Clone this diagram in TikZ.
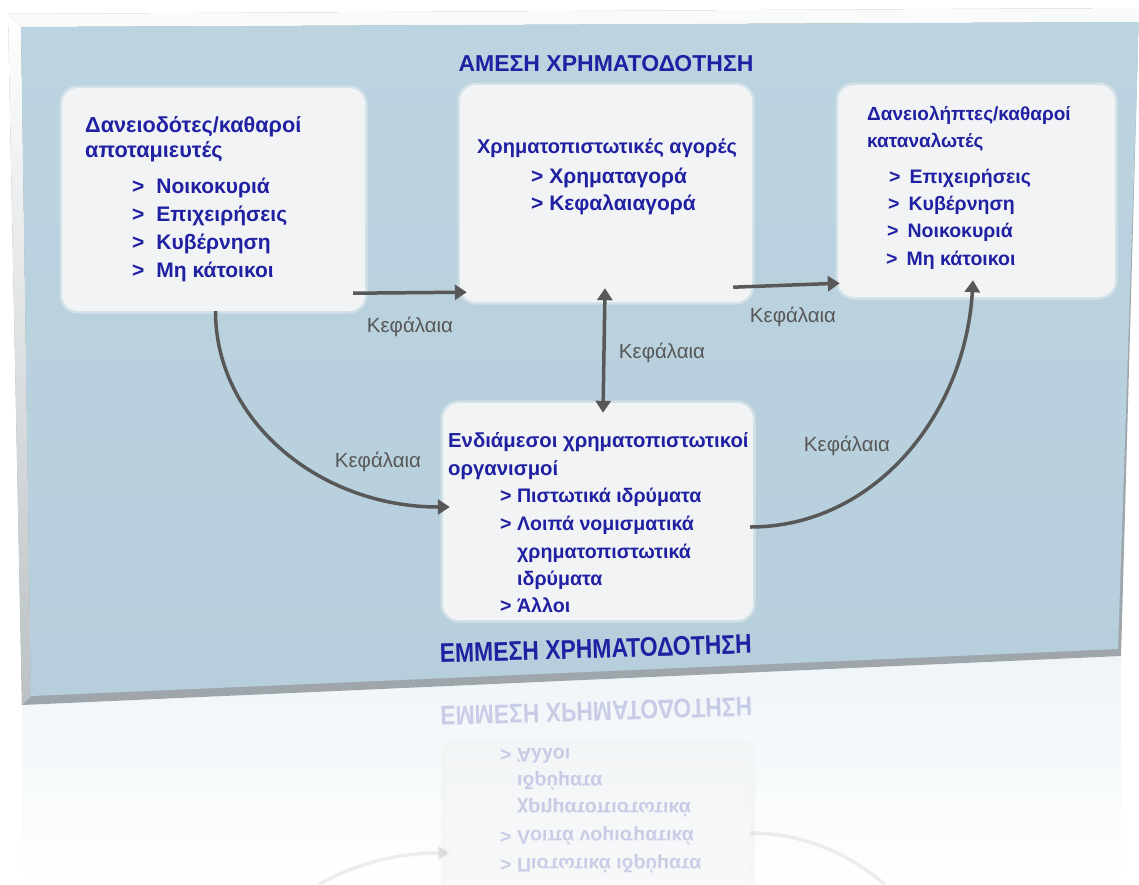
\documentclass[tikz,border=0pt]{standalone}
\usepackage{fontspec}
\setmainfont{Liberation Sans}
\usetikzlibrary{arrows.meta}
\definecolor{panel}{HTML}{BCD4E0}
\definecolor{panelb}{HTML}{B7CFDC}
\definecolor{boxc}{HTML}{F1F3F4}
\definecolor{txtblue}{HTML}{2020A2}
\definecolor{arrgray}{HTML}{585858}
\definecolor{bevel}{HTML}{9EA6AB}
\begin{document}
\begin{tikzpicture}[x=1pt,y=1pt,
  box/.style={draw=none, fill=boxc, rounded corners=16pt, inner sep=0pt,
     preaction={draw=boxc, line width=5pt, opacity=0.45, rounded corners=16pt}},
  hd/.style={anchor=base west, text=txtblue, font=\bfseries\fontsize{20}{24}\selectfont, inner sep=0pt},
  it/.style={anchor=base west, text=txtblue, font=\bfseries\fontsize{21}{25}\selectfont, inner sep=0pt},
  ttl/.style={anchor=base, text=txtblue, font=\bfseries\fontsize{23}{27}\selectfont, inner sep=0pt},
  lbl/.style={text=arrgray, font=\fontsize{20.5}{24}\selectfont, inner sep=0pt},
  arr/.style={draw=arrgray, line width=3.5pt, -{Triangle[length=12pt,width=15pt]}},
  darr/.style={draw=arrgray, line width=3.5pt, {Triangle[length=12pt,width=15pt]}-{Triangle[length=12pt,width=15pt]}},
]
\useasboundingbox (0,0) rectangle (1139,-884);
\fill[white] (0,0) rectangle (1139,-884);
% reflection background
\shade[top color=panel!25!white, bottom color=white] (22,-705) -- (1121,-656) -- (1121,-884) -- (22,-884) -- cycle;
% panel bevel
\fill[bevel] (8,-14) -- (1139,-8) -- (1121,-656) -- (22,-705) -- cycle;
\shade[top color=white, bottom color=bevel!70!white] (8,-14) -- (21,-27) -- (31,-696) -- (22,-705) -- cycle;
\fill[white!94!bevel] (8,-14) -- (1139,-8) -- (1139,-22) -- (21,-27) -- cycle;
% panel face
\shade[top color=panel, bottom color=panelb] (21,-27) -- (1139,-22) -- (1118,-649) -- (31,-696) -- cycle;

% boxes
\node[box, minimum width=303pt, minimum height=223pt] (L) at (213.5,-199.5) {};
\node[box, minimum width=292pt, minimum height=217pt] (M) at (606,-193.5) {};
\node[box, minimum width=277pt, minimum height=212pt] (R) at (976.5,-191) {};
\node[box, minimum width=310pt, minimum height=217pt] (B) at (598,-511.5) {};

% titles
\node[ttl] (T1) at (606,-71) {ΑΜΕΣΗ ΧΡΗΜΑΤΟΔΟΤΗΣΗ};
\node[ttl, rotate=1.7, font=\bfseries\fontsize{27}{30}\selectfont, xscale=0.85] (T2) at (596,-658) {ΕΜΜΕΣΗ ΧΡΗΜΑΤΟΔΟΤΗΣΗ};

% left box text
\node[hd, font=\bfseries\fontsize{21.7}{25}\selectfont] (l1) at (85,-132) {Δανειοδότες/καθαροί};
\node[hd, font=\bfseries\fontsize{21.7}{25}\selectfont] (l2) at (85,-157) {αποταμιευτές};
\node[it] (l3) at (132,-193) {>\hspace{12pt}Νοικοκυριά};
\node[it] (l4) at (132,-221) {>\hspace{12pt}Επιχειρήσεις};
\node[it] (l5) at (132,-249) {>\hspace{12pt}Κυβέρνηση};
\node[it] (l6) at (132,-277) {>\hspace{12pt}Μη κάτοικοι};

% middle box text
\node[hd, anchor=base] (m1) at (607,-153) {Χρηματοπιστωτικές αγορές};
\node[it] (m2) at (531,-183) {> Χρηματαγορά};
\node[it] (m3) at (531,-210) {> Κεφαλαιαγορά};

% right box text
\node[hd, font=\bfseries\fontsize{19}{23}\selectfont] (r1) at (867,-120) {Δανειολήπτες/καθαροί};
\node[hd, font=\bfseries\fontsize{19}{23}\selectfont] (r2) at (867,-147) {καταναλωτές};
\node[it, font=\bfseries\fontsize{19.5}{23}\selectfont] (r3) at (889,-183) {>\hspace{9pt}Επιχειρήσεις};
\node[it, font=\bfseries\fontsize{19.5}{23}\selectfont] (r4) at (888,-210) {>\hspace{9pt}Κυβέρνηση};
\node[it, font=\bfseries\fontsize{19.5}{23}\selectfont] (r5) at (887,-237) {>\hspace{9pt}Νοικοκυριά};
\node[it, font=\bfseries\fontsize{19.5}{23}\selectfont] (r6) at (886,-265) {>\hspace{9pt}Μη κάτοικοι};

% bottom box text
\node[hd, font=\bfseries\fontsize{20.3}{25}\selectfont] (b1) at (448,-447) {Ενδιάμεσοι χρηματοπιστωτικοί};
\node[hd, font=\bfseries\fontsize{20.3}{25}\selectfont] (b2) at (448,-475) {οργανισμοί};
\node[hd, font=\bfseries\fontsize{19.6}{24}\selectfont] (b3) at (500,-502) {> Πιστωτικά ιδρύματα};
\node[hd, font=\bfseries\fontsize{19.6}{24}\selectfont] (b4) at (500,-530) {> Λοιπά νομισματικά};
\node[hd, font=\bfseries\fontsize{19.6}{24}\selectfont] (b5) at (517,-558) {χρηματοπιστωτικά};
\node[hd, font=\bfseries\fontsize{19.6}{24}\selectfont] (b6) at (517,-585) {ιδρύματα};
\node[hd, font=\bfseries\fontsize{19.6}{24}\selectfont] (b7) at (500,-612) {> Άλλοι};

% connectors
\draw[arr] ([xshift=-12pt,yshift=18pt]L.south east) -- ([xshift=7pt,yshift=10pt]M.south west);
\draw[arr] ([xshift=-19pt,yshift=15pt]M.south east) -- ([xshift=2pt,yshift=14pt]R.south west);
\draw[darr] ([xshift=-1pt,yshift=14pt]M.south) -- ([xshift=5pt,yshift=-10pt]B.north);
\draw[arr] ([xshift=2pt]L.south) .. controls +(0,-110) and +(-130,0) .. ([xshift=7pt,yshift=4.5pt]B.west);
\draw[arr] ([xshift=-3pt,yshift=-15.5pt]B.east) .. controls +(123,0) and +(-8,-136) .. ([xshift=-3.5pt,yshift=17pt]R.south);

% labels
\node[lbl] (k1) at (410,-327) {Κεφάλαια};
\node[lbl] (k2) at (793,-317) {Κεφάλαια};
\node[lbl] (k3) at (662,-353) {Κεφάλαια};
\node[lbl] (k4) at (378,-462) {Κεφάλαια};
\node[lbl] (k5) at (847,-446) {Κεφάλαια};

% reflection
\begin{scope}
\clip (22,-705) -- (1121,-656) -- (1121,-884) -- (22,-884) -- cycle;
\begin{scope}[yshift=-1360pt, yscale=-1, transform shape]
\node[box, minimum width=310pt, minimum height=217pt, opacity=0.5] (rB) at (598,-511.5) {};
\begin{scope}[opacity=0.2]
\node[ttl, rotate=-1.7, font=\bfseries\fontsize{27}{30}\selectfont, xscale=0.85] (rT2) at (596,-658) {ΕΜΜΕΣΗ ΧΡΗΜΑΤΟΔΟΤΗΣΗ};
\node[hd, font=\bfseries\fontsize{19.6}{24}\selectfont] (rb3) at (500,-502) {> Πιστωτικά ιδρύματα};
\node[hd, font=\bfseries\fontsize{19.6}{24}\selectfont] (rb4) at (500,-530) {> Λοιπά νομισματικά};
\node[hd, font=\bfseries\fontsize{19.6}{24}\selectfont] (rb5) at (517,-558) {χρηματοπιστωτικά};
\node[hd, font=\bfseries\fontsize{19.6}{24}\selectfont] (rb6) at (517,-585) {ιδρύματα};
\node[hd, font=\bfseries\fontsize{19.6}{24}\selectfont] (rb7) at (500,-612) {> Άλλοι};
\end{scope}
\begin{scope}[opacity=0.1]
\draw[arr] ([xshift=-3pt,yshift=-15.5pt]rB.east) .. controls +(123,0) and +(-8,-136) .. (973,-280);
\draw[arr] (215,-310) .. controls +(0,-110) and +(-130,0) .. ([xshift=7pt,yshift=4.5pt]rB.west);
\end{scope}
\end{scope}
\end{scope}
\end{tikzpicture}
\end{document}
